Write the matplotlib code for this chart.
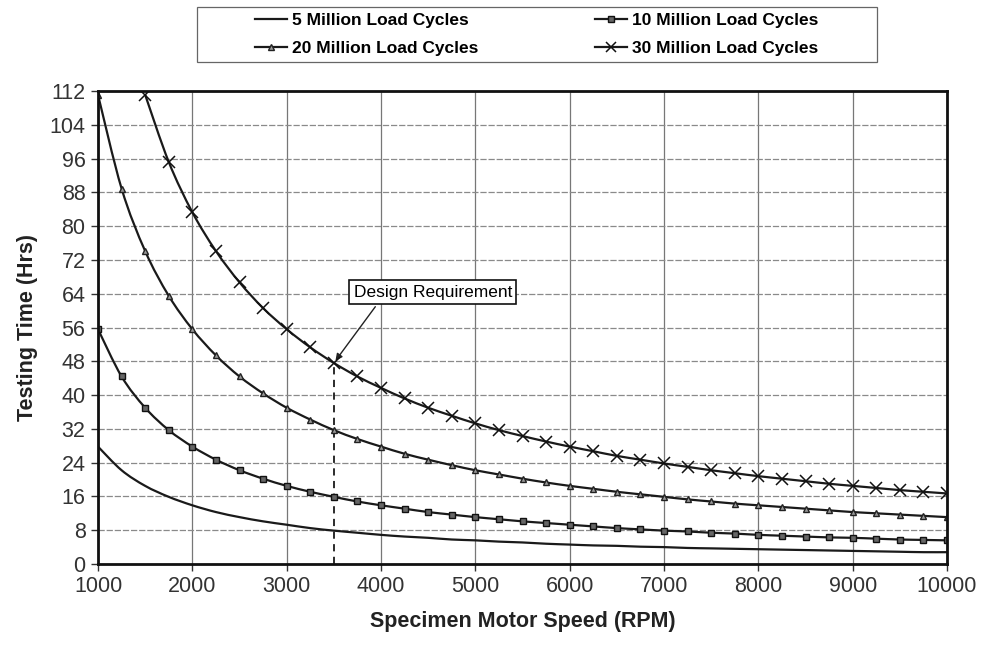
import matplotlib
matplotlib.use("Agg")
import matplotlib.pyplot as plt
from matplotlib.patches import Rectangle, PathPatch
from matplotlib.path import Path
from matplotlib.lines import Line2D

plt.rcParams['font.family'] = ['Liberation Sans', 'DejaVu Sans']

# motor speed (RPM), one point every 250 RPM
rpm = [1000, 1250, 1500, 1750, 2000, 2250, 2500, 2750, 3000, 3250,
       3500, 3750, 4000, 4250, 4500, 4750, 5000, 5250, 5500, 5750,
       6000, 6250, 6500, 6750, 7000, 7250, 7500, 7750, 8000, 8250,
       8500, 8750, 9000, 9250, 9500, 9750, 10000]

# testing time (hrs)
hrs_5m = [27.8, 22.2, 18.5, 15.9, 13.9, 12.3, 11.1, 10.1, 9.3, 8.5,
          7.9, 7.4, 6.9, 6.5, 6.2, 5.8, 5.6, 5.3, 5.1, 4.8,
          4.6, 4.4, 4.3, 4.1, 4.0, 3.8, 3.7, 3.6, 3.5, 3.4,
          3.3, 3.2, 3.1, 3.0, 2.9, 2.8, 2.8]
hrs_10m = [55.6, 44.4, 37.0, 31.7, 27.8, 24.7, 22.2, 20.2, 18.5, 17.1,
           15.9, 14.8, 13.9, 13.1, 12.3, 11.7, 11.1, 10.6, 10.1, 9.7,
           9.3, 8.9, 8.5, 8.2, 7.9, 7.7, 7.4, 7.2, 6.9, 6.7,
           6.5, 6.3, 6.2, 6.0, 5.8, 5.7, 5.6]
hrs_20m = [111.1, 88.9, 74.1, 63.5, 55.6, 49.4, 44.4, 40.4, 37.0, 34.2,
           31.7, 29.6, 27.8, 26.1, 24.7, 23.4, 22.2, 21.2, 20.2, 19.3,
           18.5, 17.8, 17.1, 16.5, 15.9, 15.3, 14.8, 14.3, 13.9, 13.5,
           13.1, 12.7, 12.3, 12.0, 11.7, 11.4, 11.1]
rpm_30m = rpm[2:]
hrs_30m = [111.1, 95.2, 83.3, 74.1, 66.7, 60.6, 55.6, 51.3,
           47.6, 44.4, 41.7, 39.2, 37.0, 35.1, 33.3, 31.7, 30.3, 29.0,
           27.8, 26.7, 25.6, 24.7, 23.8, 23.0, 22.2, 21.5, 20.8, 20.2,
           19.6, 19.0, 18.5, 18.0, 17.5, 17.1, 16.7]

design_rpm = 3500
design_hrs = 47.6

lc = '#1a1a1a'


def smooth_line(ax, x, y, **kw):
    # excel-like smoothed line: cubic bezier segments through the data points
    pts = list(zip(x, y))
    verts = [pts[0]]
    codes = [Path.MOVETO]
    n = len(pts)
    for i in range(n - 1):
        p0 = pts[max(i - 1, 0)]
        p1 = pts[i]
        p2 = pts[i + 1]
        p3 = pts[min(i + 2, n - 1)]
        c1 = (p1[0] + (p2[0] - p0[0]) / 6, p1[1] + (p2[1] - p0[1]) / 6)
        c2 = (p2[0] - (p3[0] - p1[0]) / 6, p2[1] - (p3[1] - p1[1]) / 6)
        verts += [c1, c2, p2]
        codes += [Path.CURVE4] * 3
    ax.add_patch(PathPatch(Path(verts, codes), fill=False, **kw))


fig = plt.figure(figsize=(9.88, 6.46), dpi=100)
ax = fig.add_axes([98/988, 82/646, 849/988, 473/646])

line_kw = dict(ec=lc, lw=1.6, zorder=3)
smooth_line(ax, rpm, hrs_5m, **line_kw)
smooth_line(ax, rpm, hrs_10m, **line_kw)
smooth_line(ax, rpm, hrs_20m, **line_kw)
smooth_line(ax, rpm_30m, hrs_30m, **line_kw)

m10 = dict(marker='s', ms=5, mfc='#666666', mec='#111111', mew=1)
m20 = dict(marker='^', ms=5, mfc='#999999', mec='#222222', mew=1)
m30 = dict(marker='x', ms=8, mec='#111111', mew=1.1)
ax.plot(rpm, hrs_10m, ls='none', zorder=4, **m10)
ax.plot(rpm, hrs_20m, ls='none', zorder=4, **m20)
ax.plot(rpm_30m, hrs_30m, ls='none', zorder=4, **m30)

# design requirement marker
ax.plot([design_rpm, design_rpm], [0, design_hrs], color=lc, lw=1.3,
        ls=(0, (4, 3)))
ax.annotate('Design Requirement', xy=(design_rpm, design_hrs),
            xytext=(4550, 64.4), ha='center', va='center', fontsize=12.5,
            bbox=dict(boxstyle='square,pad=0.25', fc='white', ec='#111111', lw=1.2),
            arrowprops=dict(arrowstyle='-|>', color='#222222', lw=1,
                            relpos=(0.17, 0), mutation_scale=10))

ax.set_xlim(1000, 10000)
ax.set_ylim(0, 112)
ax.set_xticks(range(1000, 10001, 1000))
ax.set_yticks(range(0, 113, 8))
ax.grid(axis='x', color='#777777', lw=0.9)
ax.grid(axis='y', color='#8a8a8a', lw=0.9, ls=(0, (5, 1.5)))
ax.set_axisbelow(True)
for s in ax.spines.values():
    s.set_linewidth(2)
    s.set_color('#111111')
    s.set_zorder(5)
ax.tick_params(labelsize=15.5, length=5, width=1, colors='#333333', pad=4)
ax.set_xlabel('Specimen Motor Speed (RPM)', fontsize=15.5, fontweight='bold',
              color='#222222', labelpad=10)
ax.set_ylabel('Testing Time (Hrs)', fontsize=15.5, fontweight='bold',
              color='#222222', labelpad=8)

# legend (two rows, two columns) with separate frame
h5 = Line2D([], [], color=lc, lw=1.6)
h10 = Line2D([], [], color=lc, lw=1.6, **m10)
h20 = Line2D([], [], color=lc, lw=1.6, **m20)
h30 = Line2D([], [], color=lc, lw=1.6, **m30)
fig.legend([h5, h20, h10, h30],
           ['5 Million Load Cycles', '20 Million Load Cycles',
            '10 Million Load Cycles', '30 Million Load Cycles'],
           loc='center', bbox_to_anchor=(537/988, 1 - 34.5/646), ncol=2,
           frameon=False, prop={'size': 12.5, 'weight': 'bold'},
           handlelength=1.85, handletextpad=0.3, columnspacing=6.7,
           labelspacing=0.7, markerscale=0.9)
fig.patches.append(Rectangle((197/988, 1 - 62/646), 680/988, 55/646,
                             transform=fig.transFigure, fill=False,
                             ec='#666666', lw=0.9))

fig.savefig('out.png', dpi=100)
